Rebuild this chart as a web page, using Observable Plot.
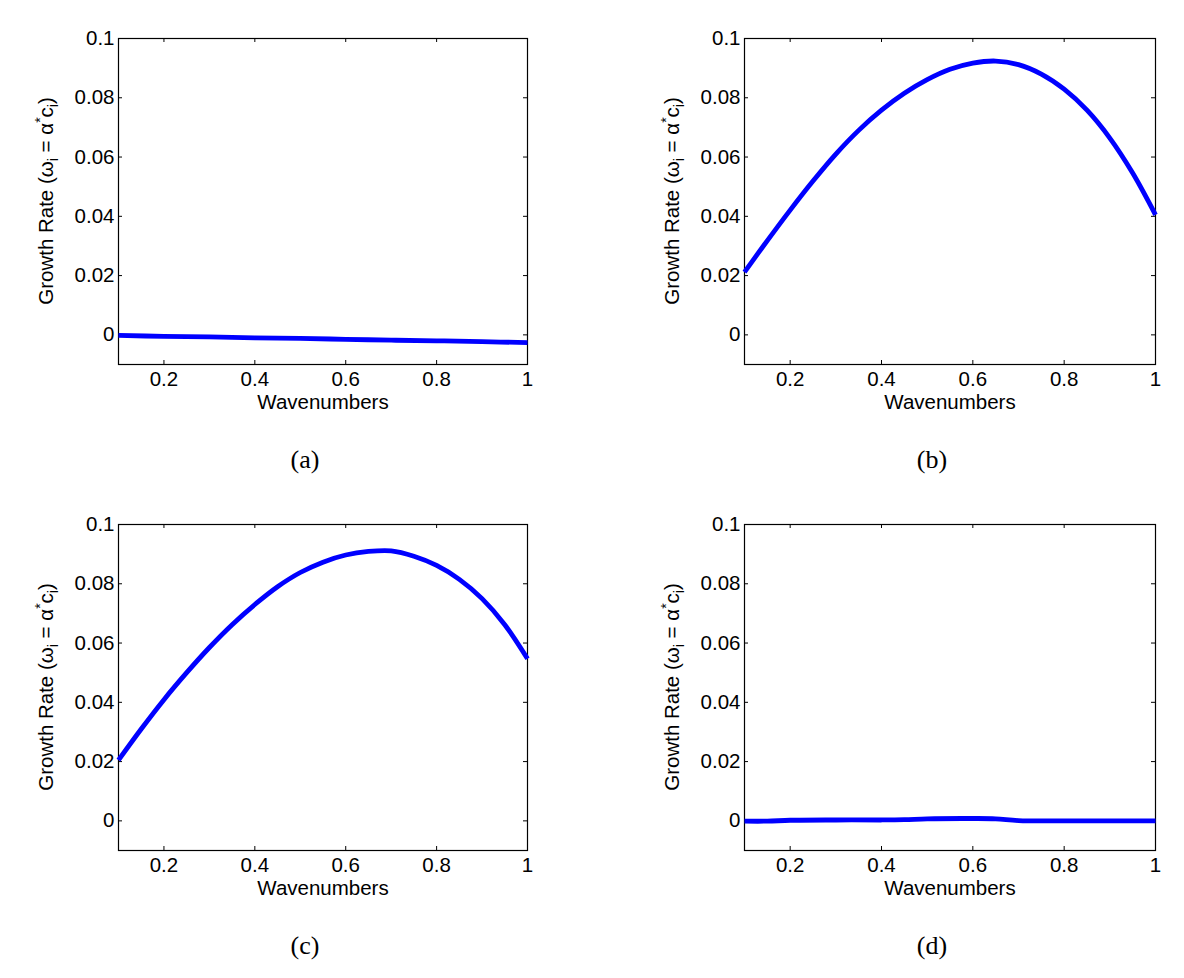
<!DOCTYPE html>
<html>
<head>
<meta charset="utf-8">
<script src="https://cdn.jsdelivr.net/npm/d3@7"></script>
<script src="https://cdn.jsdelivr.net/npm/@observablehq/plot@0.6"></script>
<style>
  body { margin: 0; background: #fff; }
  #fig { position: relative; width: 1184px; height: 978px; background: #fff; overflow: hidden; }
  #fig svg { position: absolute; }
</style>
</head>
<body>
<div id="fig"></div>
<script>
// Axis settings shared by the four panels
const xDomain = [0.1, 1];
const yDomain = [-0.01, 0.1];
const xTicks = [0.2, 0.4, 0.6, 0.8, 1];
const yTicks = [0, 0.02, 0.04, 0.06, 0.08, 0.1];
const xLabel = "Wavenumbers";
const panelLetters = ["(a)", "(b)", "(c)", "(d)"];

// (a) growth rate vs wavenumber
const kA = [0.1, 0.2, 0.3, 0.4, 0.5, 0.6, 0.7, 0.8, 0.9, 1.0];
const rateA = [-0.0002, -0.0005, -0.0007, -0.0010, -0.0012, -0.0015, -0.0018, -0.0020, -0.0023, -0.0026];

// (b)
const kB = [0.1, 0.15, 0.2, 0.25, 0.3, 0.35, 0.4, 0.45, 0.5, 0.55, 0.6, 0.65, 0.7, 0.75, 0.8, 0.85, 0.9, 0.95, 1.0];
const rateB = [0.0212, 0.0318, 0.0421, 0.0519, 0.0610, 0.0690, 0.0758, 0.0815, 0.0861, 0.0896, 0.0917, 0.0924, 0.0912, 0.0880, 0.0829, 0.0758, 0.0664, 0.0546, 0.0405];

// (c)
const kC = [0.1, 0.15, 0.2, 0.25, 0.3, 0.35, 0.4, 0.45, 0.5, 0.55, 0.6, 0.65, 0.7, 0.75, 0.8, 0.85, 0.9, 0.95, 1.0];
const rateC = [0.0205, 0.0310, 0.0409, 0.0500, 0.0585, 0.0662, 0.0730, 0.0790, 0.0838, 0.0873, 0.0897, 0.0909, 0.0911, 0.0893, 0.0862, 0.0815, 0.0750, 0.0662, 0.0547];

// (d)
const kD = [0.1, 0.15, 0.2, 0.3, 0.4, 0.45, 0.5, 0.6, 0.65, 0.7, 0.8, 0.9, 1.0];
const rateD = [-0.0001, -0.0001, 0.0002, 0.0003, 0.0003, 0.0004, 0.0007, 0.0008, 0.0007, 0.0001, 0.0000, 0.0000, 0.0000];

const sans = "'Liberation Sans', Arial, Helvetica, sans-serif";
const serif = "'Liberation Serif', 'Times New Roman', serif";
const fmt = d => String(+d.toFixed(2));

function panel({k, rate, letter, left, top, plotWidth}) {
  const W = 560, H = 486, mL = 118, mT = 38, mB = 122;
  const mR = W - mL - plotWidth;
  const pH = H - mT - mB;
  const tick = 4;
  const rows = k.map((v, i) => ({k: v, rate: rate[i]}));

  const svg = Plot.plot({
    width: W, height: H,
    marginLeft: mL, marginRight: mR, marginTop: mT, marginBottom: mB,
    style: {fontFamily: sans, fontSize: "20px", color: "#000", background: "transparent", overflow: "visible"},
    x: {domain: xDomain},
    y: {domain: yDomain},
    marks: [
      Plot.frame({stroke: "#000", strokeWidth: 1.2}),
      // inward ticks on all four sides of the box
      Plot.ruleX(xTicks, {x: d => d, insetTop: pH - tick, stroke: "#000", strokeWidth: 1}),
      Plot.ruleX(xTicks, {x: d => d, insetBottom: pH - tick, stroke: "#000", strokeWidth: 1}),
      Plot.ruleY(yTicks, {y: d => d, insetRight: plotWidth - tick, stroke: "#000", strokeWidth: 1}),
      Plot.ruleY(yTicks, {y: d => d, insetLeft: plotWidth - tick, stroke: "#000", strokeWidth: 1}),
      Plot.axisX({ticks: xTicks, tickSize: 0, tickPadding: 6.5, tickFormat: fmt, label: null, fontSize: 20.5}),
      Plot.axisY({ticks: yTicks, tickSize: 0, tickPadding: 4, tickFormat: fmt, label: null, fontSize: 20.5}),
      Plot.line(rows, {x: "k", y: "rate", stroke: "#0000ff", strokeWidth: 4.8, strokeLinecap: "butt", curve: "catmull-rom"}),
      Plot.text([xLabel], {text: d => d, frameAnchor: "bottom", dy: 44, lineAnchor: "bottom", fontSize: 20.5}),
      Plot.text([letter], {text: d => d, frameAnchor: "bottom", dy: 103, dx: -18, lineAnchor: "bottom", fontSize: 26, fontFamily: serif, letterSpacing: "1.5px"})
    ]
  });

  // rotated y label with subscripts and superscript
  const cy = mT + pH / 2;
  const t = d3.select(svg).append("text")
    .attr("transform", `translate(52.7,${cy}) rotate(-90)`)
    .attr("text-anchor", "middle")
    .attr("fill", "#000")
    .style("font-family", sans)
    .style("font-size", "20.5px");
  t.append("tspan").text("Growth Rate (\u03c9");
  t.append("tspan").attr("dy", 5).style("font-size", "14px").text("i");
  t.append("tspan").attr("dy", -5).text(" = \u03b1");
  t.append("tspan").attr("dy", -8).style("font-size", "14px").text("*");
  t.append("tspan").attr("dy", 8).text("c");
  t.append("tspan").attr("dy", 5).style("font-size", "14px").text("i");
  t.append("tspan").attr("dy", -5).text(")");

  svg.style.left = left + "px";
  svg.style.top = top + "px";
  document.getElementById("fig").appendChild(svg);
}

panel({k: kA, rate: rateA, letter: panelLetters[0], left: 0, top: 0, plotWidth: 409});
panel({k: kB, rate: rateB, letter: panelLetters[1], left: 626, top: 0, plotWidth: 411});
panel({k: kC, rate: rateC, letter: panelLetters[2], left: 0, top: 486, plotWidth: 409});
panel({k: kD, rate: rateD, letter: panelLetters[3], left: 626, top: 486, plotWidth: 411});
</script>
</body>
</html>
